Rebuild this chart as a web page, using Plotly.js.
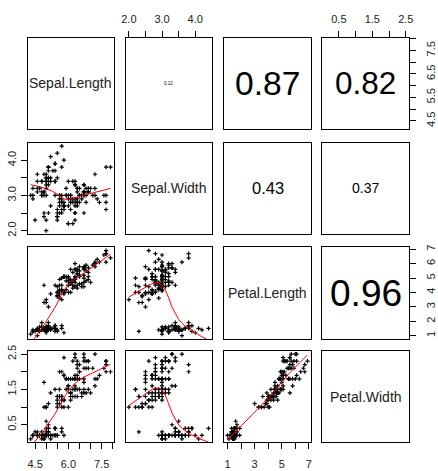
<!DOCTYPE html>
<html>
<head>
<meta charset="utf-8">
<script src="https://cdn.plot.ly/plotly-3.0.1.min.js"></script>
<style>html,body{margin:0;padding:0;background:#fff;}#chart{width:438px;height:471px;}</style>
</head>
<body>
<div id="chart"></div>
<script>
// Iris measurements (150 flowers)
var varNames = ["Sepal.Length", "Sepal.Width", "Petal.Length", "Petal.Width"];
var sepalLength = [5.1,4.9,4.7,4.6,5.0,5.4,4.6,5.0,4.4,4.9,5.4,4.8,4.8,4.3,5.8,5.7,5.4,5.1,5.7,5.1,5.4,5.1,4.6,5.1,4.8,5.0,5.0,5.2,5.2,4.7,4.8,5.4,5.2,5.5,4.9,5.0,5.5,4.9,4.4,5.1,5.0,4.5,4.4,5.0,5.1,4.8,5.1,4.6,5.3,5.0,
7.0,6.4,6.9,5.5,6.5,5.7,6.3,4.9,6.6,5.2,5.0,5.9,6.0,6.1,5.6,6.7,5.6,5.8,6.2,5.6,5.9,6.1,6.3,6.1,6.4,6.6,6.8,6.7,6.0,5.7,5.5,5.5,5.8,6.0,5.4,6.0,6.7,6.3,5.6,5.5,5.5,6.1,5.8,5.0,5.6,5.7,5.7,6.2,5.1,5.7,
6.3,5.8,7.1,6.3,6.5,7.6,4.9,7.3,6.7,7.2,6.5,6.4,6.8,5.7,5.8,6.4,6.5,7.7,7.7,6.0,6.9,5.6,7.7,6.3,6.7,7.2,6.2,6.1,6.4,7.2,7.4,7.9,6.4,6.3,6.1,7.7,6.3,6.4,6.0,6.9,6.7,6.9,5.8,6.8,6.7,6.7,6.3,6.5,6.2,5.9];
var sepalWidth = [3.5,3.0,3.2,3.1,3.6,3.9,3.4,3.4,2.9,3.1,3.7,3.4,3.0,3.0,4.0,4.4,3.9,3.5,3.8,3.8,3.4,3.7,3.6,3.3,3.4,3.0,3.4,3.5,3.4,3.2,3.1,3.4,4.1,4.2,3.1,3.2,3.5,3.6,3.0,3.4,3.5,2.3,3.2,3.5,3.8,3.0,3.8,3.2,3.7,3.3,
3.2,3.2,3.1,2.3,2.8,2.8,3.3,2.4,2.9,2.7,2.0,3.0,2.2,2.9,2.9,3.1,3.0,2.7,2.2,2.5,3.2,2.8,2.5,2.8,2.9,3.0,2.8,3.0,2.9,2.6,2.4,2.4,2.7,2.7,3.0,3.4,3.1,2.3,3.0,2.5,2.6,3.0,2.6,2.3,2.7,3.0,2.9,2.9,2.5,2.8,
3.3,2.7,3.0,2.9,3.0,3.0,2.5,2.9,2.5,3.6,3.2,2.7,3.0,2.5,2.8,3.2,3.0,3.8,2.6,2.2,3.2,2.8,2.8,2.7,3.3,3.2,2.8,3.0,2.8,3.0,2.8,3.8,2.8,2.8,2.6,3.0,3.4,3.1,3.0,3.1,3.1,3.1,2.7,3.2,3.3,3.0,2.5,3.0,3.4,3.0];
var petalLength = [1.4,1.4,1.3,1.5,1.4,1.7,1.4,1.5,1.4,1.5,1.5,1.6,1.4,1.1,1.2,1.5,1.3,1.4,1.7,1.5,1.7,1.5,1.0,1.7,1.9,1.6,1.6,1.5,1.4,1.6,1.6,1.5,1.5,1.4,1.5,1.2,1.3,1.4,1.3,1.5,1.3,1.3,1.3,1.6,1.9,1.4,1.6,1.4,1.5,1.4,
4.7,4.5,4.9,4.0,4.6,4.5,4.7,3.3,4.6,3.9,3.5,4.2,4.0,4.7,3.6,4.4,4.5,4.1,4.5,3.9,4.8,4.0,4.9,4.7,4.3,4.4,4.8,5.0,4.5,3.5,3.8,3.7,3.9,5.1,4.5,4.5,4.7,4.4,4.1,4.0,4.4,4.6,4.0,3.3,4.2,4.2,4.2,4.3,3.0,4.1,
6.0,5.1,5.9,5.6,5.8,6.6,4.5,6.3,5.8,6.1,5.1,5.3,5.5,5.0,5.1,5.3,5.5,6.7,6.9,5.0,5.7,4.9,6.7,4.9,5.7,6.0,4.8,4.9,5.6,5.8,6.1,6.4,5.6,5.1,5.6,6.1,5.6,5.5,4.8,5.4,5.6,5.1,5.1,5.9,5.7,5.2,5.0,5.2,5.4,5.1];
var petalWidth = [0.2,0.2,0.2,0.2,0.2,0.4,0.3,0.2,0.2,0.1,0.2,0.2,0.1,0.1,0.2,0.4,0.4,0.3,0.3,0.3,0.2,0.4,0.2,0.5,0.2,0.2,0.4,0.2,0.2,0.2,0.2,0.4,0.1,0.2,0.2,0.2,0.2,0.1,0.2,0.2,0.3,0.3,0.2,0.6,0.4,0.3,0.2,0.2,0.2,0.2,
1.4,1.5,1.5,1.3,1.5,1.3,1.6,1.0,1.3,1.4,1.0,1.5,1.0,1.4,1.3,1.4,1.5,1.0,1.5,1.1,1.8,1.3,1.5,1.2,1.3,1.4,1.4,1.7,1.5,1.0,1.1,1.0,1.2,1.6,1.5,1.6,1.5,1.3,1.3,1.3,1.2,1.4,1.2,1.0,1.3,1.2,1.3,1.3,1.1,1.3,
2.5,1.9,2.1,1.8,2.2,2.1,1.7,1.8,1.8,2.5,2.0,1.9,2.1,2.0,2.4,2.3,1.8,2.2,2.3,1.5,2.3,2.0,2.0,1.8,2.1,1.8,1.8,1.8,2.1,1.6,1.9,2.0,2.2,1.5,1.4,2.3,2.4,1.8,1.8,2.1,2.4,2.3,1.9,2.3,2.5,2.3,1.9,2.0,2.3,1.8];

// Axis tick values and labels per variable
var tickVals = {
  "Sepal.Length": [4.5,5.0,5.5,6.0,6.5,7.0,7.5,8.0],
  "Sepal.Width":  [2.0,2.5,3.0,3.5,4.0],
  "Petal.Length": [1,2,3,4,5,6,7],
  "Petal.Width":  [0.5,1.0,1.5,2.0,2.5]
};
var bottomLabels = {
  "Sepal.Length": ["4.5","","","6.0","","","7.5",""],
  "Petal.Length": ["1","","3","","5","","7"]
};
var topLabels = {
  "Sepal.Width": ["2.0","","3.0","","4.0"],
  "Petal.Width": ["0.5","","1.5","","2.5"]
};
var leftLabels = {
  "Sepal.Width": ["2.0","","3.0","","4.0"],
  "Petal.Width": ["0.5","","1.5","","2.5"]
};
var rightLabels = {
  "Sepal.Length": ["4.5","","5.5","","6.5","","7.5",""],
  "Petal.Length": ["1","2","3","4","5","6","7"]
};

var data = [sepalLength, sepalWidth, petalLength, petalWidth];

// R-style lowess (clowess port)
function lowess(xin, yin, f, nsteps) {
  var n = xin.length;
  var idx = xin.map(function(v,i){return i;}).sort(function(a,b){return (xin[a]-xin[b]) || (a-b);});
  var x=[0], y=[0];
  idx.forEach(function(i){x.push(xin[i]); y.push(yin[i]);});
  var delta = 0.01*(x[n]-x[1]);
  var ys = new Array(n+1).fill(0), rw = new Array(n+1).fill(0), res = new Array(n+1).fill(0), w = new Array(n+1).fill(0);
  var ns = Math.max(2, Math.min(n, Math.floor(f*n+1e-7)));
  function lowest(xs, nleft, nright, userw) {
    var range = x[n]-x[1];
    var h = Math.max(xs - x[nleft], x[nright]-xs);
    var h9 = 0.999*h, h1 = 0.001*h;
    var a = 0, j = nleft;
    while (j <= n) {
      w[j] = 0;
      var r = Math.abs(x[j]-xs);
      if (r <= h9) {
        if (r <= h1) w[j] = 1; else { var q = r/h; q = 1-q*q*q; w[j] = q*q*q; }
        if (userw) w[j] *= rw[j];
        a += w[j];
      } else if (x[j] > xs) break;
      j++;
    }
    var nrt = j-1;
    if (a <= 0) return null;
    for (j=nleft;j<=nrt;j++) w[j]/=a;
    if (h > 0) {
      a = 0;
      for (j=nleft;j<=nrt;j++) a += w[j]*x[j];
      var b = xs - a, c = 0;
      for (j=nleft;j<=nrt;j++) c += w[j]*(x[j]-a)*(x[j]-a);
      if (Math.sqrt(c) > 0.001*range) {
        b /= c;
        for (j=nleft;j<=nrt;j++) w[j] *= (b*(x[j]-a)+1);
      }
    }
    var s = 0;
    for (j=nleft;j<=nrt;j++) s += w[j]*y[j];
    return s;
  }
  var iter = 1, i, j;
  while (iter <= nsteps+1) {
    var nleft=1, nright=ns, last=0;
    i = 1;
    for(;;) {
      if (nright < n) {
        var d1 = x[i]-x[nleft], d2 = x[nright+1]-x[i];
        if (d1 > d2) { nleft++; nright++; continue; }
      }
      var v = lowest(x[i], nleft, nright, iter>1);
      ys[i] = (v === null) ? y[i] : v;
      if (last < i-1) {
        var denom = x[i]-x[last];
        for (j=last+1;j<i;j++){ var al=(x[j]-x[last])/denom; ys[j]=al*ys[i]+(1-al)*ys[last]; }
      }
      last = i;
      var cut = x[last]+delta;
      for (i=last+1;i<=n;i++){ if (x[i]>cut) break; if (x[i]===x[last]) { ys[i]=ys[last]; last=i; } }
      i = Math.max(last+1, i-1);
      if (last >= n) break;
    }
    for (i=1;i<=n;i++) res[i]=y[i]-ys[i];
    var sc=0; for(i=1;i<=n;i++) sc+=Math.abs(res[i]); sc/=n;
    if (iter > nsteps) break;
    var s = []; for(i=1;i<=n;i++) s.push(Math.abs(res[i])); s.sort(function(a,b){return a-b;});
    var m1 = Math.floor(n/2), cmad;
    if (n%2===0) { var m2=n-m1-1; cmad = 3*(s[m1]+s[m2]); } else cmad = 6*s[m1];
    if (cmad < 1e-7*sc) break;
    var c9=0.999*cmad, c1=0.001*cmad;
    for(i=1;i<=n;i++){ var r=Math.abs(res[i]); rw[i] = r<=c1?1:(r<=c9? Math.pow(1-Math.pow(r/cmad,2),2) : 0); }
    iter++;
  }
  return {x: x.slice(1), y: ys.slice(1)};
}

function cor(a, b) {
  var n=a.length, ma=0, mb=0, i;
  for(i=0;i<n;i++){ma+=a[i];mb+=b[i];} ma/=n; mb/=n;
  var sab=0,saa=0,sbb=0;
  for(i=0;i<n;i++){sab+=(a[i]-ma)*(b[i]-mb); saa+=(a[i]-ma)*(a[i]-ma); sbb+=(b[i]-mb)*(b[i]-mb);}
  return sab/Math.sqrt(saa*sbb);
}

// layout geometry (pixels)
var W = 438, H = 471;
var colX = [[27.5,113.7],[125.7,211.7],[224.3,310.7],[322.3,409]];
var rowY = [[37.7,129],[142.7,234],[247.3,339],[350.7,442.3]];

var ranges = data.map(function(v){
  var mn = Math.min.apply(null,v), mx = Math.max.apply(null,v), e = 0.04*(mx-mn);
  return [mn-e, mx+e];
});

var fontFam = "Liberation Sans, Arial, sans-serif";
var traces = [];
var layout = {
  width: W, height: H,
  margin: {l:0,r:0,t:0,b:0},
  paper_bgcolor: "#fff", plot_bgcolor: "#fff",
  showlegend: false,
  annotations: [],
  font: {family: fontFam, size: 11, color: "#222"}
};

for (var r=0; r<4; r++) {
  for (var c=0; c<4; c++) {
    var k = r*4+c+1;
    var xa = "x"+(k===1?"":k), ya = "y"+(k===1?"":k);
    var xkey = "xaxis"+(k===1?"":k), ykey = "yaxis"+(k===1?"":k);
    var xd = [colX[c][0]/W, colX[c][1]/W];
    var yd = [1-rowY[r][1]/H, 1-rowY[r][0]/H];
    var xAx = {domain: xd, range: ranges[c], anchor: ya, showgrid:false, zeroline:false,
      showline:true, mirror:true, linecolor:"#000", linewidth:1, ticks:"", showticklabels:false,
      fixedrange:true};
    var yAx = {domain: yd, range: ranges[r], anchor: xa, showgrid:false, zeroline:false,
      showline:true, mirror:true, linecolor:"#000", linewidth:1, ticks:"", showticklabels:false,
      fixedrange:true};
    var vx = varNames[c], vy = varNames[r];
    if (r===3 && bottomLabels[vx]) {
      Object.assign(xAx, {side:"bottom", ticks:"outside", ticklen:6, tickcolor:"#000", tickmode:"array",
        tickvals: tickVals[vx], ticktext: bottomLabels[vx], showticklabels:true, ticklabelstandoff:5});
    }
    if (r===0 && topLabels[vx]) {
      Object.assign(xAx, {side:"top", ticks:"outside", ticklen:6, tickcolor:"#000", tickmode:"array",
        tickvals: tickVals[vx], ticktext: topLabels[vx], showticklabels:true, ticklabelstandoff:3});
    }
    if (c===0 && leftLabels[vy]) {
      Object.assign(yAx, {side:"left", ticks:"outside", ticklen:6, tickcolor:"#000", tickmode:"array",
        tickvals: tickVals[vy], ticktext: leftLabels[vy], showticklabels:true, tickangle:-90, ticklabelstandoff:0});
    }
    if (c===3 && rightLabels[vy]) {
      Object.assign(yAx, {side:"right", ticks:"outside", ticklen:6, tickcolor:"#000", tickmode:"array",
        tickvals: tickVals[vy], ticktext: rightLabels[vy], showticklabels:true, tickangle:-90, ticklabelstandoff:6});
    }
    layout[xkey] = xAx;
    layout[ykey] = yAx;

    var cx = (colX[c][0]+colX[c][1])/2/W, cy = 1-(rowY[r][0]+rowY[r][1])/2/H;
    if (r > c) {
      traces.push({type:"scatter", mode:"markers", x:data[c], y:data[r], xaxis:xa, yaxis:ya,
        marker:{symbol:"cross-thin-open", size:3, color:"#000", line:{color:"#000", width:1.2}},
        hoverinfo:"skip", cliponaxis:true});
      var lw = lowess(data[c], data[r], 2/3, 3);
      traces.push({type:"scatter", mode:"lines", x:lw.x, y:lw.y, xaxis:xa, yaxis:ya,
        line:{color:"#ff0000", width:1}, hoverinfo:"skip"});
    } else {
      traces.push({type:"scatter", mode:"markers", x:[], y:[], xaxis:xa, yaxis:ya, hoverinfo:"skip"});
      if (r === c) {
        layout.annotations.push({xref:"paper", yref:"paper", x:cx, y:cy, text:varNames[r], showarrow:false,
          xanchor:"center", yanchor:"middle", font:{family:fontFam, size:14, color:"#222"}});
      } else {
        var rv = Math.abs(cor(data[r], data[c]));
        layout.annotations.push({xref:"paper", yref:"paper", x:cx, y:cy, text:rv.toFixed(2), showarrow:false,
          xanchor:"center", yanchor:"middle", font:{family:fontFam, size:38.5*rv, color:"#000"}});
      }
    }
  }
}

Plotly.newPlot("chart", traces, layout, {staticPlot:true, displayModeBar:false});
</script>
</body>
</html>
